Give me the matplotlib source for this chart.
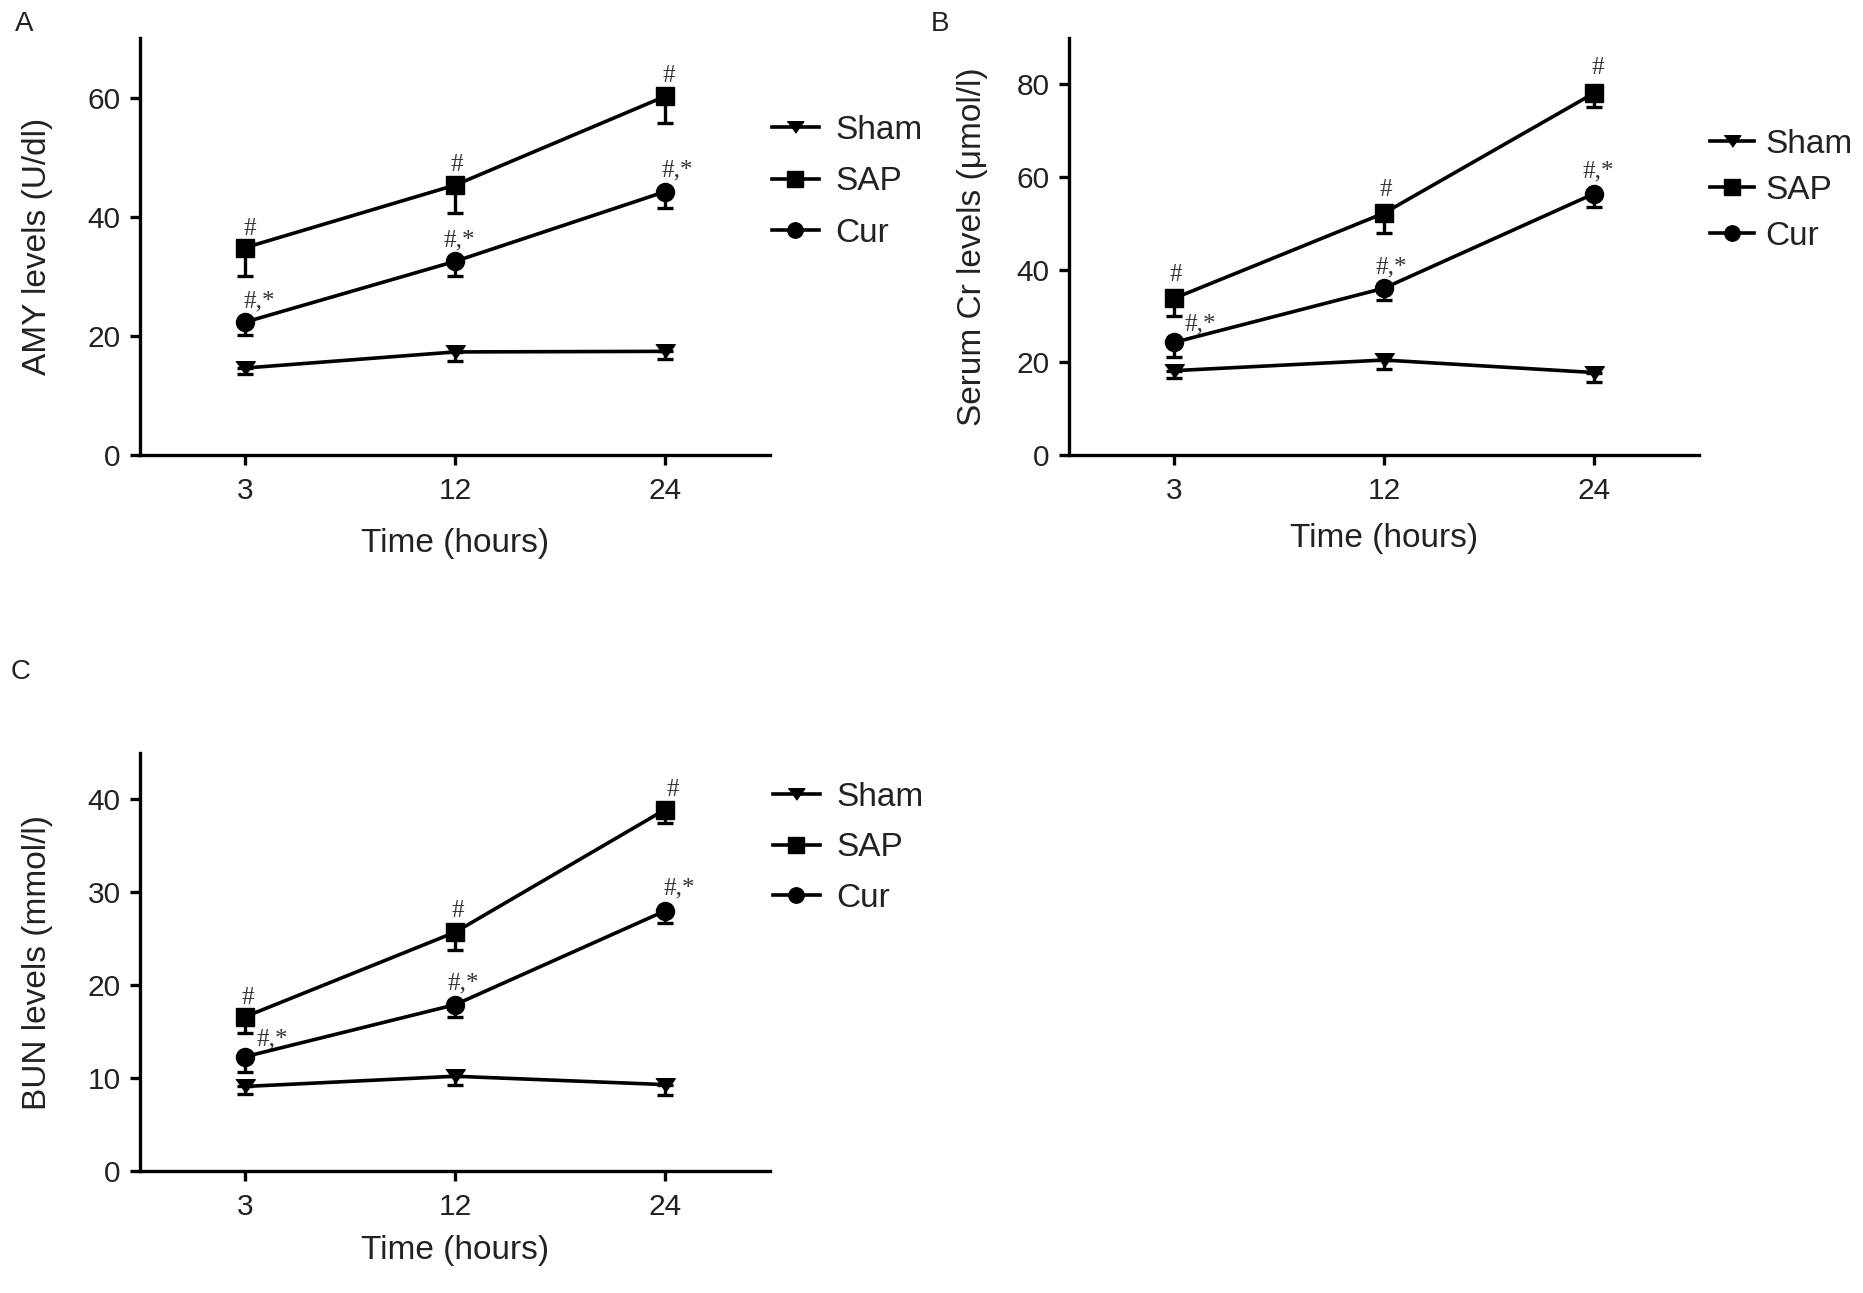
import matplotlib
matplotlib.use('Agg')
import matplotlib.pyplot as plt
from matplotlib.lines import Line2D
import numpy as np

plt.rcParams['font.family'] = ['Liberation Sans', 'DejaVu Sans']

#----data----
times = ['3', '12', '24']
groups = ['Sham', 'SAP', 'Cur']

amy_sham = [14.6, 17.3, 17.4]
amy_sham_err = [1.0, 1.6, 1.3]
amy_sap = [34.8, 45.3, 60.2]
amy_sap_err = [4.8, 4.6, 4.4]
amy_cur = [22.3, 32.5, 44.2]
amy_cur_err = [2.1, 2.4, 2.7]

cr_sham = [18.2, 20.5, 17.8]
cr_sham_err = [1.6, 2.0, 2.0]
cr_sap = [33.8, 52.2, 78.1]
cr_sap_err = [3.9, 4.2, 2.9]
cr_cur = [24.3, 36.0, 56.4]
cr_cur_err = [3.1, 2.5, 2.8]

bun_sham = [9.1, 10.2, 9.3]
bun_sham_err = [0.8, 0.9, 1.1]
bun_sap = [16.6, 25.7, 38.9]
bun_sap_err = [1.7, 1.9, 1.4]
bun_cur = [12.3, 17.9, 28.0]
bun_cur_err = [1.6, 1.3, 1.3]

sap_marks = ['#', '#', '#']
cur_marks = ['#,*', '#,*', '#,*']

#----style----
line_w = 2.6
tri = [(-1, 0.7), (1, 0.7), (0, -0.7)]
markers = {'Sham': tri, 'SAP': 's', 'Cur': 'o'}
msize = {'Sham': 14, 'SAP': 13, 'Cur': 13}
txt_col = '#222222'

fig = plt.figure(figsize=(18.63, 12.93), dpi=100)
fig.patch.set_facecolor('white')


def panel(rect, letter, letter_xy, ylabel, ylim, yticks, series, marks,
          leg_anchor, leg_spacing, leg_hlen, leg_pad, ylab_x, xlab_y):
    ax = fig.add_axes(rect)
    x = np.arange(len(times))
    handles = []
    for name, (vals, errs) in zip(groups, series):
        vals = np.array(vals)
        errs = np.array(errs)
        ax.errorbar(x, vals, yerr=[errs, np.zeros_like(errs)], color='black',
                    lw=line_w, marker=markers[name], ms=msize[name],
                    mfc='black', mec='black', capsize=6, elinewidth=2.4,
                    capthick=2.4, clip_on=False, zorder=3)
        handles.append(Line2D([], [], color='black', lw=line_w,
                              marker=markers[name], ms=msize[name] * 0.85,
                              mfc='black', mec='black', label=name))
    # significance marks
    for (vals, labs, offs) in marks:
        for i, (v, lab) in enumerate(zip(vals, labs)):
            dx, dy = offs[i]
            ax.annotate(lab, (x[i], v), xytext=(dx, dy),
                        textcoords='offset pixels', ha='center',
                        va='baseline', fontsize=18,
                        family=['Liberation Serif'], color='#333333')
    ax.set_xlim(-0.5, 2.5)
    ax.set_ylim(*ylim)
    ax.set_xticks(x)
    ax.set_xticklabels(times)
    ax.set_yticks(yticks)
    for s in ['top', 'right']:
        ax.spines[s].set_visible(False)
    for s in ['left', 'bottom']:
        ax.spines[s].set_linewidth(2.4)
    ax.tick_params(axis='both', width=2.4, length=7, labelsize=21.5,
                   colors='black', labelcolor=txt_col)
    ax.tick_params(axis='y', pad=7)
    ax.tick_params(axis='x', pad=9)
    ax.set_ylabel(ylabel, fontsize=24, color=txt_col)
    ax.set_xlabel('Time (hours)', fontsize=24, color=txt_col)
    ax.yaxis.set_label_coords(ylab_x, 0.5)
    ax.xaxis.set_label_coords(0.5, xlab_y)
    leg = ax.legend(handles=handles, loc='center left',
                    bbox_to_anchor=leg_anchor, frameon=False, fontsize=24,
                    borderpad=0, borderaxespad=0, handlelength=leg_hlen,
                    handletextpad=leg_pad, labelspacing=leg_spacing)
    for t in leg.get_texts():
        t.set_color(txt_col)
    fig.text(letter_xy[0], letter_xy[1], letter, fontsize=20, color=txt_col,
             ha='center', va='center')
    return ax


W, H = 1863.0, 1293.0

# A
panel([140 / W, 1 - 455 / H, 630 / W, 417 / H], 'A', (24 / W, 1 - 24 / H),
      'AMY levels (U/dl)', (0, 70), [0, 20, 40, 60],
      [(amy_sham, amy_sham_err), (amy_sap, amy_sap_err), (amy_cur, amy_cur_err)],
      [(amy_sap, sap_marks, [(5, 13), (2, 14), (4, 14)]),
       (amy_cur, cur_marks, [(14, 15), (4, 15), (12, 15)])],
      (1.003, 0.655), 0.62, 1.4, 0.5, -0.138, -0.175)

# B
panel([1069 / W, 1 - 455 / H, 630 / W, 417 / H], 'B', (940 / W, 1 - 24 / H),
      'Serum Cr levels (\u03bcmol/l)', (0, 90), [0, 20, 40, 60, 80],
      [(cr_sham, cr_sham_err), (cr_sap, cr_sap_err), (cr_cur, cr_cur_err)],
      [(cr_sap, sap_marks, [(2, 17), (2, 17), (4, 19)]),
       (cr_cur, cur_marks, [(26, 12), (7, 15), (4, 16)])],
      (1.018, 0.635), 0.45, 1.3, 0.35, -0.129, -0.163)

# C
panel([140 / W, 1 - 1171 / H, 630 / W, 418 / H], 'C', (21 / W, 1 - 672 / H),
      'BUN levels (mmol/l)', (0, 45), [0, 10, 20, 30, 40],
      [(bun_sham, bun_sham_err), (bun_sap, bun_sap_err), (bun_cur, bun_cur_err)],
      [(bun_sap, sap_marks, [(3, 13), (3, 15), (8, 14)]),
       (bun_cur, cur_marks, [(27, 11), (8, 15), (14, 16)])],
      (1.005, 0.773), 0.58, 1.4, 0.5, -0.138, -0.153)

fig.savefig('out.png', dpi=100, facecolor='white')
